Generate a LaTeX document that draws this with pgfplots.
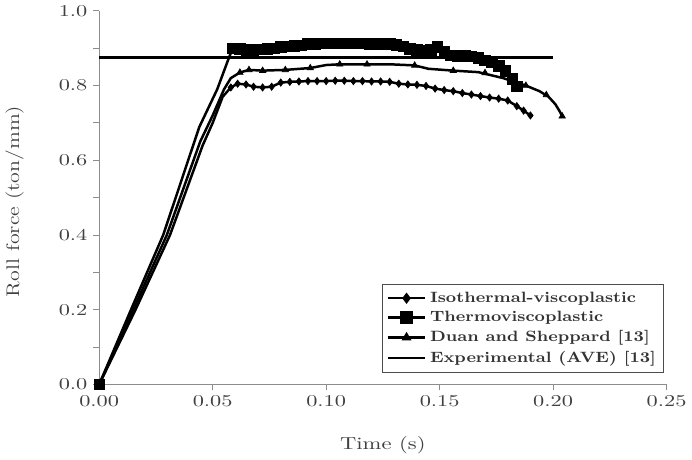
\documentclass[border=0pt]{standalone}
\usepackage{pgfplots}
\usepackage{graphicx}
\pgfplotsset{compat=1.18}
\newcommand{\hs}[2][1.35]{\scalebox{#1}[1]{#2}}

\begin{document}
\begin{tikzpicture}
\begin{axis}[
  scale only axis,
  width=342.6pt, height=225.6pt,
  xmin=0, xmax=0.25, ymin=0, ymax=1.0,
  axis x line*=bottom, axis y line*=left,
  axis line style={draw=black!45, line width=0.6pt},
  xtick={0,0.05,0.10,0.15,0.20,0.25},
  ytick={0,0.2,0.4,0.6,0.8,1.0},
  minor ytick={0.1,0.3,0.5,0.7,0.9},
  scaled ticks=false,
  tick align=outside,
  major tick length=3.6pt, minor tick length=3.6pt,
  every tick/.style={draw=black!45, line width=0.6pt},
  xticklabel={\hs{$\pgfmathprintnumber[fixed,fixed zerofill,precision=2]{\tick}$}},
  yticklabel={\hs{$\pgfmathprintnumber[fixed,fixed zerofill,precision=1]{\tick}$}},
  ticklabel style={text=black!75, font=\fontsize{10}{12}\selectfont},
  xlabel={\hs[1.3]{Time (s)}},
  ylabel={\hs[1.2]{Roll force (ton/mm)}},
  xlabel style={font=\fontsize{10.5}{12}\selectfont, text=black!75, at={(rel axis cs:0.5,-0.162)}, anchor=center},
  ylabel style={font=\fontsize{11}{13}\selectfont, text=black!75, at={(rel axis cs:-0.149,0.49)}, anchor=center},
  legend style={at={(rel axis cs:0.995,0.032)}, anchor=south east, draw=black!70, line width=0.5pt,
    font=\fontsize{9}{10.5}\selectfont\bfseries, text=black!80, inner sep=2.5pt, row sep=0pt},
  legend cell align=left,
  legend image code/.code={\draw[mark repeat=2,mark phase=2] plot coordinates {(0cm,0cm) (0.4cm,0cm) (0.8cm,0cm)};},
  clip=false,
]
% legend entries
\addlegendimage{black, line width=1.5pt, mark=diamond*, mark size=2.2pt, mark options={solid}}
\addlegendentry{\hs[1.17]{Isothermal-viscoplastic}}
\addlegendimage{black, line width=1.5pt, mark=square*, mark size=3pt}
\addlegendentry{\hs[1.17]{Thermoviscoplastic}}
\addlegendimage{black, line width=1.5pt, mark=triangle*, mark size=2pt}
\addlegendentry{\hs[1.17]{Duan and Sheppard [13]}}
\addlegendimage{black, line width=1.6pt}
\addlegendentry{\hs[1.17]{Experimental (AVE) [13]}}

% Experimental
\addplot[black, line width=2.3pt, forget plot] coordinates {(0,0.875) (0.2,0.875)};

% Isothermal-viscoplastic line
\addplot[black, line width=1.5pt, forget plot] coordinates {
(0,0) (0.0160,0.200) (0.0312,0.400) (0.0456,0.640) (0.0500,0.700) (0.0544,0.770)
(0.058,0.795) (0.061,0.805) (0.0647,0.803) (0.068,0.797) (0.072,0.795) (0.076,0.797)
(0.080,0.808) (0.084,0.810) (0.088,0.811) (0.092,0.812) (0.096,0.812) (0.100,0.812)
(0.104,0.813) (0.108,0.813) (0.112,0.812) (0.116,0.812) (0.120,0.811) (0.124,0.811)
(0.128,0.810) (0.132,0.805) (0.136,0.803) (0.140,0.802) (0.144,0.799) (0.148,0.792)
(0.152,0.788) (0.156,0.785) (0.160,0.780) (0.164,0.776) (0.168,0.772) (0.172,0.768)
(0.176,0.765) (0.180,0.760) (0.184,0.745) (0.187,0.733) (0.190,0.720)};
\addplot[black, only marks, mark=diamond*, mark size=2.2pt, forget plot] coordinates {
(0,0)
(0.058,0.795) (0.061,0.805) (0.0647,0.803) (0.068,0.797) (0.072,0.795) (0.076,0.797)
(0.080,0.808) (0.084,0.810) (0.088,0.811) (0.092,0.812) (0.096,0.812) (0.100,0.812)
(0.104,0.813) (0.108,0.813) (0.112,0.812) (0.116,0.812) (0.120,0.811) (0.124,0.811)
(0.128,0.810) (0.132,0.805) (0.136,0.803) (0.140,0.802) (0.144,0.799) (0.148,0.792)
(0.152,0.788) (0.156,0.785) (0.160,0.780) (0.164,0.776) (0.168,0.772) (0.172,0.768)
(0.176,0.765) (0.180,0.760) (0.184,0.745) (0.187,0.733) (0.190,0.720)};

% Duan and Sheppard line
\addplot[black, line width=1.5pt, forget plot] coordinates {
(0,0) (0.0150,0.200) (0.0298,0.400) (0.0445,0.650) (0.0500,0.720) (0.0550,0.790) (0.0580,0.820)
(0.062,0.835) (0.066,0.842) (0.072,0.840) (0.082,0.842) (0.093,0.847) (0.100,0.855)
(0.106,0.857) (0.118,0.857) (0.128,0.857) (0.139,0.854) (0.145,0.845) (0.156,0.840)
(0.167,0.836) (0.178,0.820) (0.188,0.800) (0.194,0.785) (0.198,0.770) (0.201,0.750)
(0.203,0.730) (0.204,0.718)};
\addplot[black, only marks, mark=triangle*, mark size=2.2pt, forget plot] coordinates {
(0,0)
(0.062,0.835) (0.066,0.842) (0.072,0.840) (0.082,0.842) (0.093,0.847)
(0.106,0.857) (0.118,0.857) (0.139,0.854) (0.156,0.840)
(0.170,0.834) (0.188,0.800) (0.197,0.775) (0.204,0.718)};

% Thermoviscoplastic line
\addplot[black, line width=1.5pt, forget plot] coordinates {
(0,0) (0.0140,0.200) (0.0282,0.400) (0.0441,0.689) (0.0520,0.790) (0.0575,0.880)
(0.059,0.900) (0.062,0.898) (0.065,0.896) (0.068,0.895) (0.071,0.897) (0.074,0.898)
(0.077,0.900) (0.080,0.903) (0.083,0.905) (0.086,0.906) (0.089,0.908) (0.092,0.911)
(0.095,0.912) (0.098,0.913) (0.101,0.913) (0.104,0.913) (0.107,0.913) (0.110,0.913)
(0.113,0.913) (0.116,0.913) (0.119,0.912) (0.122,0.912) (0.125,0.912) (0.128,0.911)
(0.131,0.909) (0.134,0.905) (0.137,0.898) (0.140,0.895) (0.143,0.894) (0.146,0.896)
(0.149,0.903) (0.152,0.890) (0.155,0.881) (0.158,0.880) (0.161,0.880) (0.164,0.878)
(0.167,0.874) (0.170,0.868) (0.173,0.862) (0.176,0.853) (0.179,0.840) (0.182,0.818)
(0.184,0.798)};
\addplot[black, only marks, mark=square*, mark size=3.2pt, forget plot] coordinates {
(0,0)
(0.059,0.900) (0.062,0.898) (0.065,0.896) (0.068,0.895) (0.071,0.897) (0.074,0.898)
(0.077,0.900) (0.080,0.903) (0.083,0.905) (0.086,0.906) (0.089,0.908) (0.092,0.911)
(0.095,0.912) (0.098,0.913) (0.101,0.913) (0.104,0.913) (0.107,0.913) (0.110,0.913)
(0.113,0.913) (0.116,0.913) (0.119,0.912) (0.122,0.912) (0.125,0.912) (0.128,0.911)
(0.131,0.909) (0.134,0.905) (0.137,0.898) (0.140,0.895) (0.143,0.894) (0.146,0.896)
(0.149,0.903) (0.152,0.890) (0.155,0.881) (0.158,0.880) (0.161,0.880) (0.164,0.878)
(0.167,0.874) (0.170,0.868) (0.173,0.862) (0.176,0.853) (0.179,0.840) (0.182,0.818)
(0.184,0.798)};
\end{axis}
\end{tikzpicture}
\end{document}
